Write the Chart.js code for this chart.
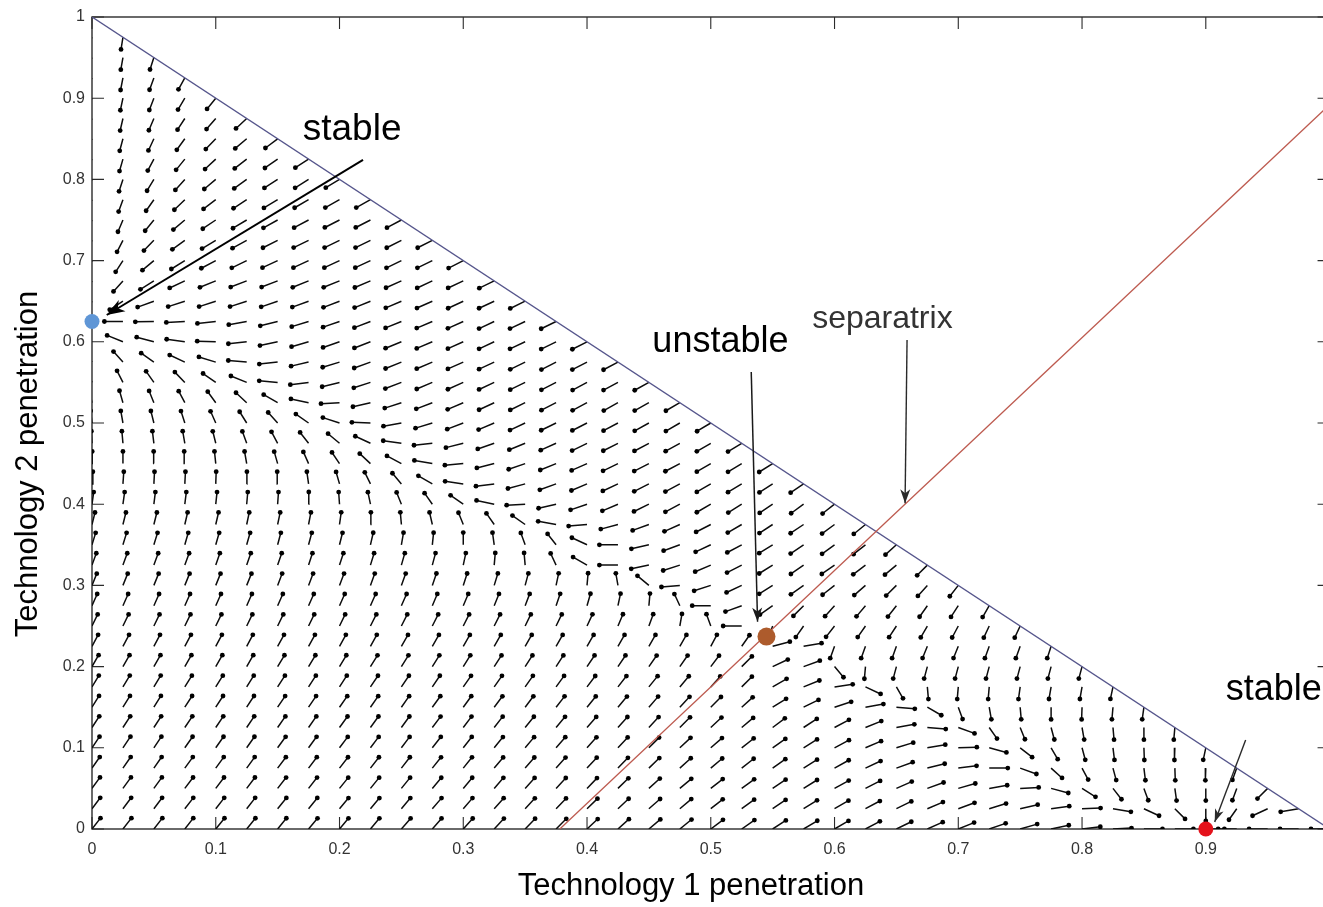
<!DOCTYPE html>
<html>
<head>
<meta charset="utf-8">
<title>Technology penetration phase portrait</title>
<script src="https://cdn.jsdelivr.net/npm/chart.js@4.4.1/dist/chart.umd.min.js"></script>
<style>
  html, body { margin: 0; padding: 0; background: #fff; overflow: hidden; }
  #wrap { width: 1323px; height: 907px; overflow: hidden; position: relative; background: #fff; }
  canvas { display: block; }
</style>
</head>
<body>
<div id="wrap"><canvas id="phase" width="1345" height="907"></canvas></div>
<script>
// ---- data -------------------------------------------------------------
// grid of penetration levels used for both technologies
const gridValues = [0, 0.025, 0.05, 0.075, 0.1, 0.125, 0.15, 0.175, 0.2, 0.225,
  0.25, 0.275, 0.3, 0.325, 0.35, 0.375, 0.4, 0.425, 0.45, 0.475, 0.5, 0.525,
  0.55, 0.575, 0.6, 0.625, 0.65, 0.675, 0.7, 0.725, 0.75, 0.775, 0.8, 0.825,
  0.85, 0.875, 0.9, 0.925, 0.95, 0.975, 1];

// direction of the flow at each grid node (degrees on screen, 0 = right, 90 = up);
// row j is Technology 2 = gridValues[j], entry i is Technology 1 = gridValues[i]
const fieldAngles = [
  [52,52,52,52,51,51,51,50,50,50,49,49,48,47,46,45,43,42,40,39,37,35,33,31,30,28,26,24,22,19,16,12,7,3,0,0,0,180,180,180,180],
  [53,53,53,52,52,52,51,51,50,50,50,49,49,48,47,46,44,43,41,40,38,36,34,32,30,28,26,23,20,17,13,8,2,350,335,315,270,235,205,190],
  [54,54,54,53,53,53,52,52,51,51,51,50,50,49,48,47,46,44,42,40,38,36,34,32,29,27,24,20,16,10,3,345,328,308,290,278,270,250,225],
  [55,55,55,54,54,54,53,53,52,52,52,51,51,50,49,48,47,46,44,42,40,38,35,32,29,25,20,14,7,0,340,318,298,285,277,272,268,250],
  [56,56,56,55,55,55,54,54,53,53,53,52,52,51,50,49,48,47,45,43,41,38,35,32,28,23,17,10,2,345,322,300,285,277,272,268,258],
  [57,57,57,56,56,56,55,55,54,54,54,53,53,52,51,50,49,48,47,45,43,40,37,33,28,22,10,355,340,305,292,285,280,275,270,265],
  [58,58,58,57,57,57,56,56,55,55,55,54,54,53,53,52,51,50,49,47,45,42,32,26,18,10,355,330,290,280,275,270,268,265,262],
  [59,59,59,58,58,58,57,57,57,56,56,56,55,55,55,54,53,52,51,50,48,45,30,22,8,335,300,275,265,265,262,260,260,258],
  [60,60,60,60,60,60,59,59,59,58,58,58,58,57,57,57,56,56,55,55,53,45,25,20,310,265,255,255,255,255,255,255,255],
  [62,62,62,62,62,62,61,61,61,61,60,60,60,60,60,60,60,60,60,60,62,55,15,10,250,250,250,248,248,250,250,252],
  [64,64,64,64,64,64,64,64,64,63,63,63,63,63,64,64,65,67,70,80,110,180,250,235,232,235,237,240,242,245,245],
  [66,66,66,66,66,66,66,66,66,66,66,67,67,68,69,71,74,78,85,115,180,200,215,225,228,230,232,235,237,240],
  [68,68,68,68,68,68,69,69,69,70,70,71,72,73,75,78,85,100,140,185,198,205,212,215,218,221,225,228,232],
  [70,70,70,70,71,71,71,72,72,73,74,75,78,85,95,115,150,180,192,198,203,207,212,215,215,217,220,225],
  [73,73,73,74,74,74,75,75,76,77,80,84,90,98,110,128,155,180,193,200,205,208,212,214,216,218,222],
  [76,76,76,77,77,78,78,79,82,88,95,103,112,125,145,170,185,195,200,204,207,210,213,214,216,219],
  [82,82,83,83,84,85,86,89,94,102,112,125,145,168,183,193,199,203,206,208,210,212,214,216,218],
  [86,86,87,87,88,89,92,98,106,116,130,150,172,187,195,200,203,205,207,208,210,211,213,214],
  [89,90,91,93,96,100,106,114,124,137,152,170,185,194,199,202,204,206,207,208,210,211,212],
  [93,95,97,100,104,110,118,128,140,155,172,186,194,199,202,204,206,207,208,209,210,211],
  [97,100,104,108,114,122,132,145,162,178,190,197,201,203,205,206,207,208,209,210,211],
  [103,106,112,118,126,137,150,168,183,193,198,201,203,205,206,207,208,209,209,210],
  [112,117,125,134,145,158,175,187,194,198,201,203,204,205,206,207,208,208,209],
  [125,132,145,155,163,175,186,193,197,200,202,203,204,205,206,207,207,208],
  [150,158,165,172,178,186,192,196,199,201,202,203,204,205,205,206,207],
  [180,180,181,183,186,190,194,197,199,201,202,203,204,205,205,206],
  [240,213,200,198,198,198,199,200,201,202,203,204,205,205,206],
  [240,228,212,205,202,201,201,202,202,203,204,205,205,206],
  [240,237,220,212,208,206,205,205,205,205,206,206,207],
  [240,243,226,216,211,209,207,206,206,206,207,207],
  [240,247,231,220,214,211,209,208,207,207,208],
  [240,250,235,224,217,213,211,210,209,209],
  [240,252,239,228,220,216,213,212,211],
  [240,254,242,231,223,218,215,213],
  [240,255,245,234,226,220,217],
  [240,257,247,237,229,223],
  [240,258,249,239,231],
  [240,259,250,241],
  [240,260,252],
  [240,261],
  [240]
];

// equilibria of the two-technology system
const equilibriumX = [0, 0.545, 0.9];
const equilibriumY = [0.625, 0.237, 0];
const equilibriumKind = ['stable', 'unstable', 'stable'];

// separatrix through the saddle, and the x + y = 1 boundary
const separatrixX = [0.378, 1];
const separatrixY = [0, 0.892];
const boundaryX = [0, 1];
const boundaryY = [1, 0];

// axis ticks
const xTickValues = [0, 0.1, 0.2, 0.3, 0.4, 0.5, 0.6, 0.7, 0.8, 0.9, 1];
const xTickLabels = ['0', '0.1', '0.2', '0.3', '0.4', '0.5', '0.6', '0.7', '0.8', '0.9', '1'];
const yTickValues = [0, 0.1, 0.2, 0.3, 0.4, 0.5, 0.6, 0.7, 0.8, 0.9, 1];
const yTickLabels = ['0', '0.1', '0.2', '0.3', '0.4', '0.5', '0.6', '0.7', '0.8', '0.9', '1'];

// ---- styling ----------------------------------------------------------
const FONT = '"Liberation Sans", Arial, Helvetica, sans-serif';
const ARROW_LENGTH = 0.015;      // field arrow length in axis units
const TICK_LENGTH = 12;
const pointColors = ['#5f96d6', '#ad5b2c', '#e4121b'];
const pointSizes = [7.5, 9, 7.5];

// callouts: label text, where the text sits, and the arrow pointing at the feature
const callouts = [
  { text: 'stable',     tx: 0.1703, ty: 0.8485, size: 37, color: '#000',
    from: [0.219, 0.824], to: [0.0119, 0.633], width: 2.0, head: 18, half: 6.5, stroke: '#000' },
  { text: 'unstable',   tx: 0.4528, ty: 0.5874, size: 36, color: '#000',
    from: [0.5327, 0.5628], to: [0.5378, 0.2553], width: 1.5, head: 14, half: 5, stroke: '#1a1a1a' },
  { text: 'separatrix', tx: 0.5819, ty: 0.617, size: 32, color: '#333',
    from: [0.6586, 0.6022], to: [0.657, 0.4011], width: 1.4, head: 14, half: 5, stroke: '#2a2a2a' },
  { text: 'stable',     tx: 0.9161, ty: 0.1589, size: 36, color: '#000',
    from: [0.9322, 0.1096], to: [0.9072, 0.0086], width: 1.4, head: 13, half: 4.5, stroke: '#2a2a2a' }
];

// ---- helpers ----------------------------------------------------------
function buildField(area) {
  const pxX = area.right - area.left;   // pixels per unit of Technology 1
  const pxY = area.bottom - area.top;   // pixels per unit of Technology 2
  const pts = [];
  fieldAngles.forEach((row, j) => {
    row.forEach((deg, i) => {
      const x0 = gridValues[i], y0 = gridValues[j];
      const a = deg * Math.PI / 180;
      let dx = Math.cos(a) / pxX, dy = Math.sin(a) / pxY;
      const n = Math.hypot(dx, dy);
      dx = dx / n * ARROW_LENGTH;
      dy = dy / n * ARROW_LENGTH;
      pts.push({ x: x0, y: y0 });
      pts.push({ x: x0 + dx, y: y0 + dy, head: true });
      pts.push({ x: x0, y: null });
    });
  });
  return pts;
}

const framePlugin = {
  id: 'frame',
  beforeDatasetsDraw(chart) {
    const { ctx, chartArea: a, scales: { x, y } } = chart;
    ctx.save();
    ctx.strokeStyle = '#2b2b2b';
    ctx.lineWidth = 1.4;
    ctx.strokeRect(a.left, a.top, a.right - a.left, a.bottom - a.top);
    ctx.lineWidth = 1.1;
    ctx.beginPath();
    xTickValues.forEach(v => {
      const px = x.getPixelForValue(v);
      ctx.moveTo(px, a.bottom); ctx.lineTo(px, a.bottom - TICK_LENGTH);
      ctx.moveTo(px, a.top);    ctx.lineTo(px, a.top + TICK_LENGTH);
    });
    yTickValues.forEach(v => {
      const py = y.getPixelForValue(v);
      ctx.moveTo(a.left, py);  ctx.lineTo(a.left + TICK_LENGTH, py);
      ctx.moveTo(a.right, py); ctx.lineTo(a.right - TICK_LENGTH, py);
    });
    ctx.stroke();
    ctx.restore();
  }
};

const calloutPlugin = {
  id: 'callouts',
  afterDatasetsDraw(chart) {
    const { ctx, scales: { x, y } } = chart;
    ctx.save();
    callouts.forEach(c => {
      const fx = x.getPixelForValue(c.from[0]), fy = y.getPixelForValue(c.from[1]);
      const tx = x.getPixelForValue(c.to[0]),   ty = y.getPixelForValue(c.to[1]);
      const ang = Math.atan2(ty - fy, tx - fx);
      const ux = Math.cos(ang), uy = Math.sin(ang);
      const bx = tx - ux * c.head, by = ty - uy * c.head;
      const nx = tx - ux * c.head * 0.72, ny = ty - uy * c.head * 0.72;
      ctx.fillStyle = c.stroke;
      ctx.beginPath();
      ctx.moveTo(tx, ty);
      ctx.lineTo(bx - uy * c.half, by + ux * c.half);
      ctx.lineTo(nx, ny);
      ctx.lineTo(bx + uy * c.half, by - ux * c.half);
      ctx.closePath();
      ctx.fill();

      ctx.font = c.size + 'px ' + FONT;
      ctx.fillStyle = c.color;
      ctx.textAlign = 'left';
      ctx.textBaseline = 'alphabetic';
      ctx.fillText(c.text, x.getPixelForValue(c.tx), y.getPixelForValue(c.ty));
    });
    ctx.restore();
  }
};

const axisTitlePlugin = {
  id: 'axisTitles',
  afterDraw(chart) {
    const { ctx } = chart;
    ctx.save();
    ctx.fillStyle = '#000';
    ctx.font = '31px ' + FONT;
    ctx.textAlign = 'center';
    ctx.textBaseline = 'alphabetic';
    ctx.fillText('Technology 1 penetration', 691, 895);
    ctx.translate(37, 464);
    ctx.rotate(-Math.PI / 2);
    ctx.fillText('Technology 2 penetration', 0, 0);
    ctx.restore();
  }
};

// ---- chart ------------------------------------------------------------
const lineSet = (label, xs, ys, color, width, order) => ({
  label,
  data: xs.map((v, i) => ({ x: v, y: ys[i] })),
  showLine: true,
  borderColor: color,
  borderWidth: width,
  pointRadius: 0,
  pointHoverRadius: 0,
  fill: false,
  order
});

const datasets = [
  {
    label: 'flow field',
    data: [],
    showLine: true,
    spanGaps: false,
    borderColor: '#0d0d0d',
    borderWidth: 1.5,
    pointRadius: ctx => (ctx.raw && ctx.raw.head) ? 2.4 : 0,
    pointHoverRadius: 0,
    pointBackgroundColor: '#000',
    pointBorderWidth: 0,
    order: 5
  },
  lineSet('x + y = 1', boundaryX, boundaryY, '#56568c', 1.4, 4),
  lineSet('separatrix', separatrixX, separatrixY, '#bd5a4f', 1.3, 3),
  ...callouts.map((c, k) => lineSet('callout ' + k, [c.from[0], c.to[0]], [c.from[1], c.to[1]], c.stroke, c.width, 2)),
  {
    label: 'equilibria',
    data: equilibriumX.map((v, i) => ({ x: v, y: equilibriumY[i], kind: equilibriumKind[i] })),
    showLine: false,
    clip: false,
    pointRadius: pointSizes,
    pointHoverRadius: pointSizes,
    pointBackgroundColor: pointColors,
    pointBorderWidth: 0,
    order: 0
  }
];

const chart = new Chart(document.getElementById('phase'), {
  type: 'scatter',
  data: { datasets },
  options: {
    responsive: false,
    animation: false,
    events: [],
    layout: { padding: { left: 0, right: 13, top: 17, bottom: 0 } },
    plugins: { legend: { display: false }, tooltip: { enabled: false }, title: { display: false } },
    scales: {
      x: {
        type: 'linear', min: 0, max: 1,
        afterFit: s => { s.height = 78; },
        afterBuildTicks: s => { s.ticks = xTickValues.map(v => ({ value: v })); },
        ticks: {
          callback: (v, i) => xTickLabels[i],
          font: { family: FONT, size: 16 },
          color: '#333', padding: 11, maxRotation: 0, autoSkip: false
        },
        grid: { display: false, drawTicks: false },
        border: { display: false }
      },
      y: {
        type: 'linear', min: 0, max: 1,
        afterFit: s => { s.width = 92; },
        afterBuildTicks: s => { s.ticks = yTickValues.map(v => ({ value: v })); },
        ticks: {
          callback: (v, i) => yTickLabels[i],
          font: { family: FONT, size: 16 },
          color: '#333', padding: 7, autoSkip: false
        },
        grid: { display: false, drawTicks: false },
        border: { display: false }
      }
    }
  },
  plugins: [framePlugin, calloutPlugin, axisTitlePlugin]
});

chart.data.datasets[0].data = buildField(chart.chartArea);
chart.update('none');
</script>
</body>
</html>
